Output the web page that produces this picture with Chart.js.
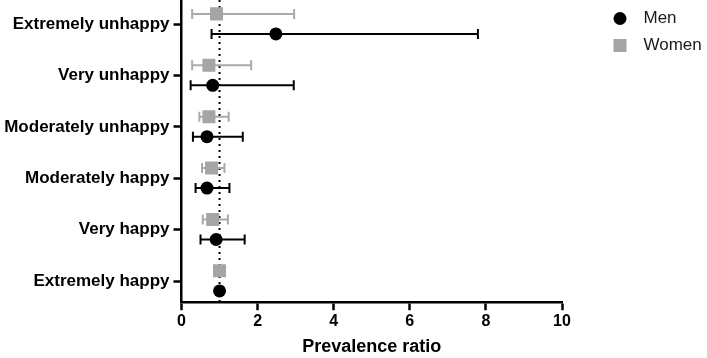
<!DOCTYPE html>
<html>
<head>
<meta charset="utf-8">
<script src="https://cdn.jsdelivr.net/npm/chart.js@4.4.1/dist/chart.umd.min.js"></script>
<style>
  html, body { margin: 0; padding: 0; background: #fff; }
  #wrap { width: 707px; height: 358px; }
</style>
</head>
<body>
<div id="wrap"><canvas id="forest"></canvas></div>
<script>
// カテゴリ(上から順)
var categories = [
  "Extremely unhappy",
  "Very unhappy",
  "Moderately unhappy",
  "Moderately happy",
  "Very happy",
  "Extremely happy"
];

// Men: prevalence ratio and 95% CI
var menPR   = [2.48, 0.82, 0.67, 0.67, 0.91, 1.0];
var menLow  = [0.79, 0.24, 0.30, 0.37, 0.50, null];
var menHigh = [7.79, 2.95, 1.61, 1.26, 1.66, null];

// Women: prevalence ratio and 95% CI
var womenPR   = [0.92, 0.72, 0.72, 0.79, 0.82, 1.0];
var womenLow  = [0.28, 0.28, 0.47, 0.54, 0.56, null];
var womenHigh = [2.96, 1.83, 1.24, 1.13, 1.22, null];

var xTicks = [0, 2, 4, 6, 8, 10];
var refLine = 1;

var FONT = "'Liberation Sans', Arial, sans-serif";
var MEN_COLOR = "#000000";
var WOMEN_COLOR = "#a5a5a5";
var MEN_OFFSET = 0.19;
var WOMEN_OFFSET = -0.2;

var series = [
  { low: menLow, high: menHigh, offset: MEN_OFFSET, color: MEN_COLOR },
  { low: womenLow, high: womenHigh, offset: WOMEN_OFFSET, color: "#aaaaaa" }
];

// エラーバーと基準線(x = 1)を描くプラグイン
var errorBars = {
  id: "errorBars",
  beforeDatasetsDraw: function(chart) {
    var ctx = chart.ctx;
    var area = chart.chartArea;
    var x = chart.scales.x;
    var y = chart.scales.y;
    ctx.save();
    // dotted reference line
    var rx = x.getPixelForValue(refLine);
    ctx.strokeStyle = "#000";
    ctx.lineWidth = 2;
    ctx.setLineDash([2, 4]);
    ctx.beginPath();
    ctx.moveTo(rx, area.top);
    ctx.lineTo(rx, area.bottom);
    ctx.stroke();
    ctx.setLineDash([]);
    // whiskers
    series.forEach(function(s) {
      ctx.strokeStyle = s.color;
      ctx.lineWidth = 2;
      s.low.forEach(function(lo, i) {
        if (lo === null) return;
        var yy = y.getPixelForValue(i + s.offset);
        var x1 = x.getPixelForValue(lo);
        var x2 = x.getPixelForValue(s.high[i]);
        ctx.beginPath();
        ctx.moveTo(x1, yy); ctx.lineTo(x2, yy);
        ctx.moveTo(x1, yy - 5); ctx.lineTo(x1, yy + 5);
        ctx.moveTo(x2, yy - 5); ctx.lineTo(x2, yy + 5);
        ctx.stroke();
      });
    });
    ctx.restore();
  }
};

var ctx = document.getElementById("forest");
var myChart = new Chart(ctx, {
  type: "scatter",
  data: {
    datasets: [
      {
        label: "Men",
        data: menPR.map(function(v, i) { return { x: v, y: i + MEN_OFFSET }; }),
        pointStyle: "circle",
        pointRadius: 6.5,
        pointHoverRadius: 6.5,
        backgroundColor: MEN_COLOR,
        borderColor: MEN_COLOR,
        borderWidth: 0
      },
      {
        label: "Women",
        data: womenPR.map(function(v, i) { return { x: v, y: i + WOMEN_OFFSET }; }),
        pointStyle: "rect",
        pointRadius: 9.2,
        pointHoverRadius: 9.2,
        backgroundColor: WOMEN_COLOR,
        borderColor: WOMEN_COLOR,
        borderWidth: 0
      }
    ]
  },
  options: {
    responsive: true,
    maintainAspectRatio: false,
    animation: false,
    layout: { padding: 0, autoPadding: false },
    scales: {
      x: {
        type: "linear",
        min: 0,
        max: 10,
        afterBuildTicks: function(s) { s.ticks = xTicks.map(function(v) { return { value: v }; }); },
        ticks: { color: "#000", font: { family: FONT, size: 16, weight: "bold" }, padding: 2 },
        grid: { drawOnChartArea: false, tickLength: 8, tickColor: "#000", tickWidth: 2.5 },
        border: { color: "#000", width: 2.5 },
        title: {
          display: true,
          text: "Prevalence ratio",
          color: "#000",
          font: { family: FONT, size: 18, weight: "bold" },
          padding: { top: 3, bottom: 0 }
        }
      },
      y: {
        type: "linear",
        reverse: true,
        min: -0.47,
        max: 5.41,
        afterBuildTicks: function(s) { s.ticks = categories.map(function(c, i) { return { value: i }; }); },
        afterFit: function(s) {
          s.width = 181.5;
          s.paddingTop = 0;
          s.paddingBottom = 0;
        },
        ticks: {
          color: "#000",
          font: { family: FONT, size: 17, weight: "bold" },
          padding: 4,
          callback: function(v) { return categories[v]; }
        },
        grid: { drawOnChartArea: false, tickLength: 8, tickColor: "#000", tickWidth: 2.5 },
        border: { color: "#000", width: 2.5 }
      },
      // 凡例との間隔用
      gap: {
        type: "linear",
        position: "right",
        display: true,
        grid: { display: false },
        ticks: { display: false },
        border: { display: false },
        afterFit: function(s) {
          s.width = 41.5;
          s.paddingTop = 0;
          s.paddingBottom = 0;
        }
      }
    },
    plugins: {
      tooltip: { enabled: false },
      legend: {
        position: "right",
        align: "start",
        maxWidth: 103.5,
        labels: {
          boxWidth: 13,
          boxHeight: 13,
          useBorderRadius: true,
          padding: 10,
          color: "#1a1a1a",
          font: { family: FONT, size: 17 },
          generateLabels: function(chart) {
            var items = Chart.defaults.plugins.legend.labels.generateLabels(chart);
            items.forEach(function(it, i) {
              it.borderRadius = i === 0 ? 6.5 : 0;
              it.lineWidth = 0;
              it.text = "\u2002" + it.text;
            });
            return items;
          }
        }
      }
    }
  },
  plugins: [errorBars]
});
</script>
</body>
</html>
